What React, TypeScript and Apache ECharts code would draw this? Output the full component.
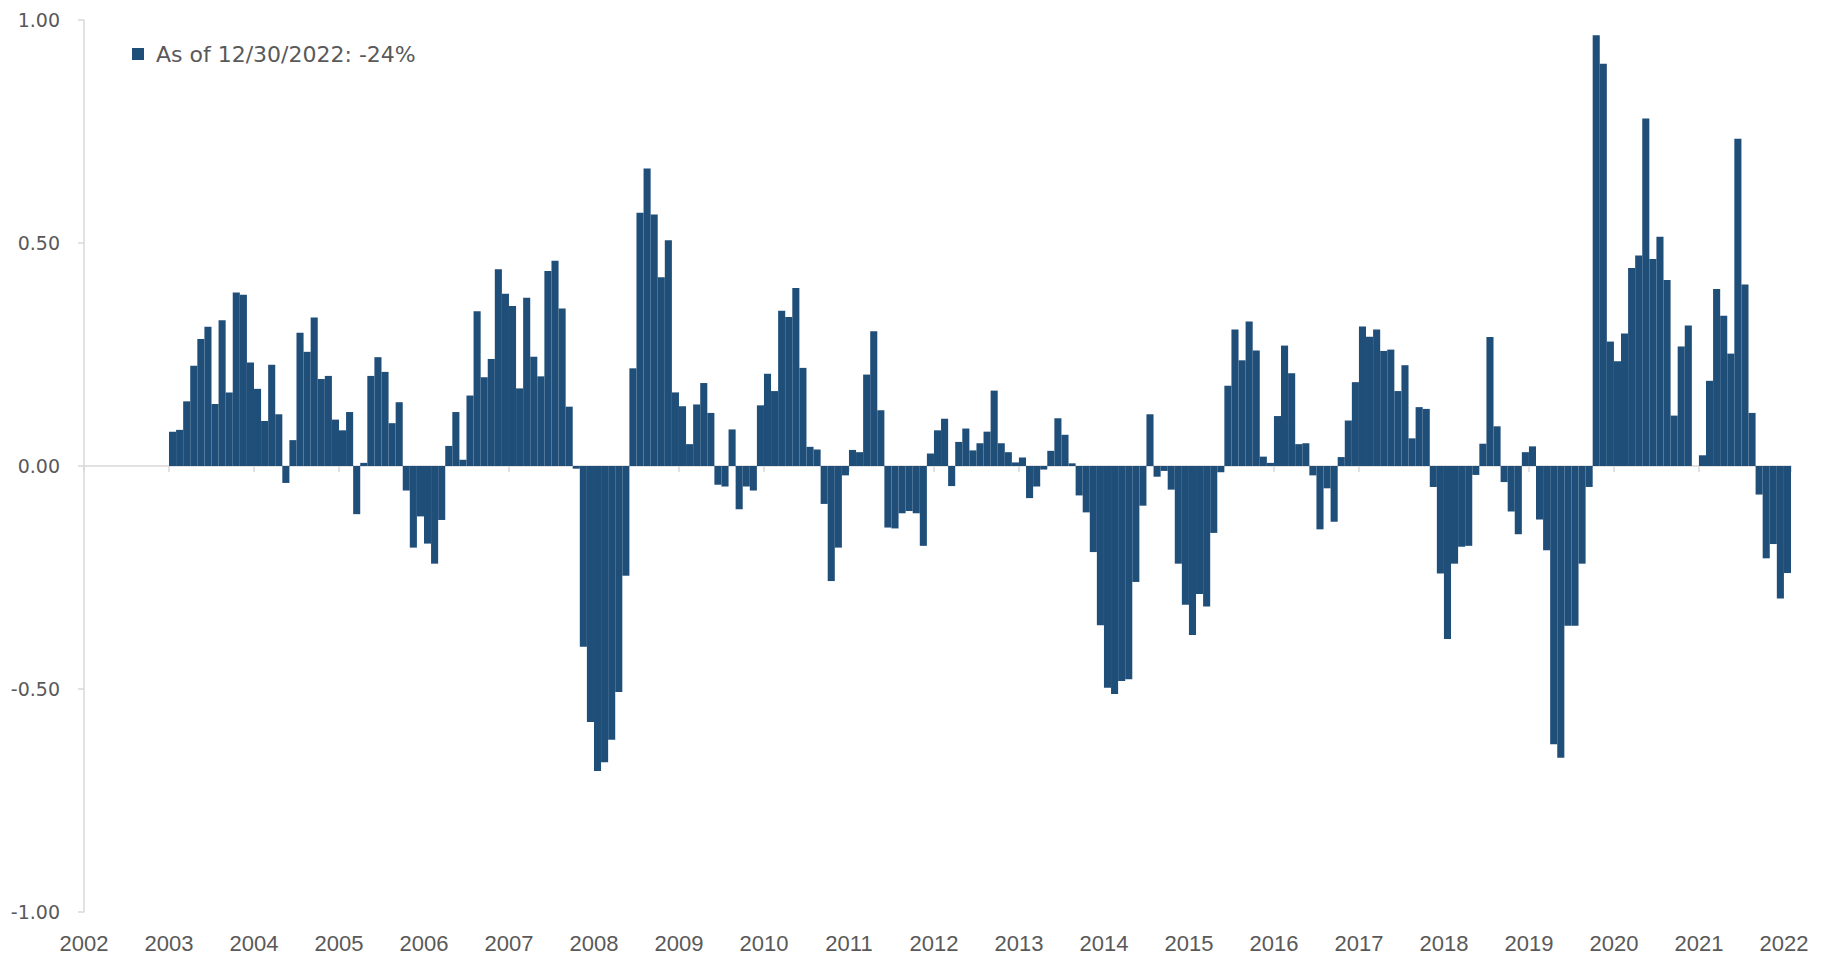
import React, { useEffect, useRef } from "react";
import * as echarts from "echarts";

// Year tick labels (each marks a 12-month boundary on the axis)
const years = [
  "2002", "2003", "2004", "2005", "2006", "2007", "2008", "2009", "2010", "2011",
  "2012", "2013", "2014", "2015", "2016", "2017", "2018", "2019", "2020", "2021", "2022",
];

// y-axis ticks
const yMin = -1;
const yMax = 1;
const yStep = 0.5;

const seriesName = "As of 12/30/2022: -24%";

// Monthly values, first bar sits at the "2003" tick
const monthlyValues = [
  // 2003
  0.077, 0.081, 0.145, 0.225, 0.285, 0.312, 0.139, 0.327, 0.165, 0.389, 0.384, 0.232,
  // 2004
  0.173, 0.101, 0.227, 0.116, -0.038, 0.058, 0.299, 0.256, 0.333, 0.195, 0.202, 0.104,
  // 2005
  0.08, 0.121, -0.108, 0.007, 0.202, 0.244, 0.211, 0.096, 0.143, -0.055, -0.183, -0.113,
  // 2006
  -0.174, -0.219, -0.121, 0.045, 0.121, 0.014, 0.158, 0.347, 0.199, 0.24, 0.441, 0.386,
  // 2007
  0.359, 0.174, 0.377, 0.245, 0.201, 0.437, 0.46, 0.353, 0.133, -0.006, -0.405, -0.574,
  // 2008
  -0.684, -0.664, -0.614, -0.507, -0.246, 0.219, 0.568, 0.667, 0.564, 0.423, 0.506, 0.165,
  // 2009
  0.134, 0.049, 0.138, 0.186, 0.119, -0.042, -0.046, 0.082, -0.097, -0.046, -0.055, 0.136,
  // 2010
  0.207, 0.168, 0.348, 0.334, 0.399, 0.22, 0.043, 0.037, -0.085, -0.258, -0.183, -0.021,
  // 2011
  0.036, 0.031, 0.205, 0.302, 0.125, -0.138, -0.14, -0.106, -0.101, -0.106, -0.179, 0.028,
  // 2012
  0.08, 0.106, -0.045, 0.054, 0.084, 0.035, 0.051, 0.077, 0.169, 0.051, 0.031, 0.008,
  // 2013
  0.019, -0.072, -0.046, -0.008, 0.034, 0.107, 0.07, 0.006, -0.066, -0.104, -0.193, -0.357,
  // 2014
  -0.497, -0.511, -0.482, -0.478, -0.26, -0.089, 0.116, -0.024, -0.011, -0.053, -0.219, -0.311,
  // 2015
  -0.379, -0.287, -0.315, -0.15, -0.014, 0.18, 0.306, 0.237, 0.324, 0.259, 0.021, 0.007,
  // 2016
  0.112, 0.27, 0.208, 0.049, 0.051, -0.021, -0.142, -0.05, -0.125, 0.02, 0.102, 0.188,
  // 2017
  0.313, 0.29, 0.306, 0.258, 0.261, 0.168, 0.226, 0.062, 0.132, 0.128, -0.047, -0.241,
  // 2018
  -0.388, -0.219, -0.181, -0.179, -0.02, 0.05, 0.289, 0.089, -0.036, -0.102, -0.153, 0.031,
  // 2019
  0.044, -0.12, -0.189, -0.624, -0.654, -0.358, -0.358, -0.219, -0.047, 0.966, 0.902, 0.279,
  // 2020
  0.235, 0.297, 0.444, 0.472, 0.779, 0.464, 0.514, 0.417, 0.113, 0.268, 0.315, 0,
  // 2021
  0.024, 0.191, 0.397, 0.337, 0.252, 0.734, 0.407, 0.119, -0.064, -0.207, -0.175, -0.297,
  // 2022
  -0.24,
];

const emptyLeading = 12; // the 2002 stretch before the first bar

const categories: string[] = [];
const totalSlots = emptyLeading + monthlyValues.length;
for (let i = 0; i < totalSlots; i++) {
  const y = Math.floor(i / 12);
  categories.push(i % 12 === 0 ? years[y] : years[y] + "-" + ((i % 12) + 1));
}
const barData: (number | null)[] = [];
for (let i = 0; i < emptyLeading; i++) barData.push(null);
for (const v of monthlyValues) barData.push(v);

const FONT = "'DejaVu Sans', sans-serif";
const GRAY_TEXT = "#595959";
const AXIS_GRAY = "#d9d9d9";
const BAR = "#1f4e79";

export default function App() {
  const ref = useRef<HTMLDivElement>(null);
  useEffect(() => {
    if (!ref.current) return;
    const chart = echarts.init(ref.current, undefined, { renderer: "svg" });
    chart.setOption({
      animation: false,
      backgroundColor: "#ffffff",
      grid: { left: 84, right: 40, top: 20, bottom: 45, containLabel: false },
      legend: {
        show: true,
        left: 132,
        top: 42,
        padding: 0,
        icon: "rect",
        itemWidth: 12,
        itemHeight: 12,
        textStyle: {
          fontFamily: FONT,
          fontSize: 22,
          color: GRAY_TEXT,
          lineHeight: 24,
          padding: [0, 0, 0, 7],
        },
        data: [seriesName],
      },
      xAxis: [
        {
          type: "category",
          data: categories,
          position: "bottom",
          boundaryGap: true,
          axisLine: { show: true, onZero: true, lineStyle: { color: AXIS_GRAY, width: 1.5 } },
          axisTick: { show: true, interval: 11, length: 6, lineStyle: { color: AXIS_GRAY, width: 1.5 } },
          axisLabel: { show: false },
          splitLine: { show: false },
        },
        {
          type: "category",
          data: categories,
          position: "bottom",
          boundaryGap: true,
          axisLine: { show: false, onZero: false },
          axisTick: { show: false },
          axisLabel: {
            show: true,
            interval: 11,
            margin: 20,
            fontFamily: "'Liberation Sans', sans-serif",
            fontSize: 22,
            color: GRAY_TEXT,
            padding: [0, 7, 0, 0],
            formatter: (v: string) => (v.length === 4 ? v : ""),
          },
          splitLine: { show: false },
        },
      ],
      yAxis: {
        type: "value",
        min: yMin,
        max: yMax,
        interval: yStep,
        axisLine: { show: true, lineStyle: { color: AXIS_GRAY, width: 1.5 } },
        axisTick: { show: true, length: 6, lineStyle: { color: AXIS_GRAY, width: 1.5 } },
        axisLabel: {
          margin: 24,
          fontFamily: FONT,
          fontSize: 19,
          color: GRAY_TEXT,
          formatter: (v: number) => v.toFixed(2),
        },
        splitLine: { show: false },
      },
      series: [
        {
          name: seriesName,
          type: "bar",
          xAxisIndex: 0,
          data: barData,
          barCategoryGap: "0%",
          itemStyle: { color: BAR, borderWidth: 0 },
        },
      ],
    });
    return () => chart.dispose();
  }, []);
  return (
    <div
      ref={ref}
      style={{ position: "absolute", left: 0, top: 0, width: 1831, height: 957 }}
    />
  );
}
